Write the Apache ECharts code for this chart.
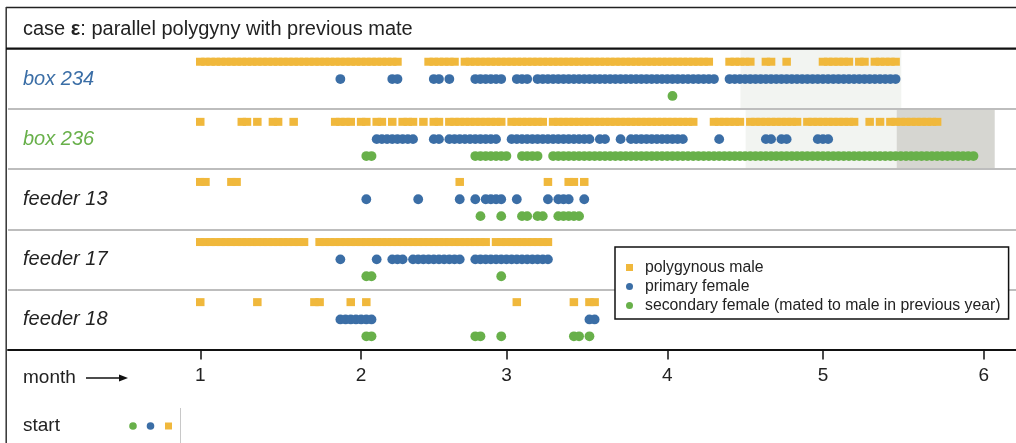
<!DOCTYPE html>
<html>
<head>
<meta charset="utf-8">
<script src="https://cdn.jsdelivr.net/npm/echarts@6/dist/echarts.min.js"></script>
<style>
html,body{margin:0;padding:0;background:#fff;}
#chart{width:1016px;height:443px;}
</style>
</head>
<body>
<div id="chart"></div>
<script>
// ---- data: day index (0 = start of month 1) on which each bird was recorded ----
const monthStartDays = [0, 31, 59, 90, 120, 151];
const monthLabels = ['1', '2', '3', '4', '5', '6'];
const rowNames = ['box 234', 'box 236', 'feeder 13', 'feeder 17', 'feeder 18'];
const seriesNames = ['polygynous male', 'primary female', 'secondary female (mated to male in previous year)'];

const box234Male = [0,1,2,3,4,5,6,7,8,9,10,11,12,13,14,15,16,17,18,19,20,21,22,23,24,25,26,27,28,29,30,31,32,33,34,35,36,37,38,
  44,45,46,47,48,49,
  51,52,53,54,55,56,57,58,59,60,61,62,63,64,65,66,67,68,69,70,71,72,73,74,75,76,77,78,79,80,81,82,83,84,85,86,87,88,89,90,91,92,93,94,95,96,97,98,
  102,103,104,105,106,109,110,113,120,121,122,123,124,125,127,128,130,131,132,133,134];
const box234Primary = [27,37,38,45,46,48,53,54,55,56,57,58,61,62,63,
  65,66,67,68,69,70,71,72,73,74,75,76,77,78,79,80,81,82,83,84,85,86,87,88,89,90,91,92,93,94,95,96,97,98,99,
  102,103,104,105,106,107,108,109,110,111,112,113,114,115,116,117,118,119,120,121,122,123,124,125,126,127,128,129,130,131,132,133,134];
const box234Secondary = [91];

const box236Male = [0,8,9,11,14,15,18,26,27,28,29,31,32,34,35,37,39,40,41,43,45,46,
  48,49,50,51,52,53,54,55,56,57,58,60,61,62,63,64,65,66,
  68,69,70,71,72,73,74,75,76,77,78,79,80,81,82,83,84,85,86,87,88,89,90,91,92,93,94,95,
  99,100,101,102,103,104,106,107,108,109,110,111,112,113,114,115,
  117,118,119,120,121,122,123,124,125,126,129,131,133,134,135,136,137,138,139,140,141,142];
const box236Primary = [34,35,36,37,38,39,40,41,45,46,48,49,50,51,52,53,54,55,56,57,
  60,61,62,63,64,65,66,67,68,69,70,71,72,73,74,75,77,78,81,
  83,84,85,86,87,88,89,90,91,92,93,100,109,110,112,113,119,120,121];
const box236Secondary = [32,33,53,54,55,56,57,58,59,62,63,64,65,
  68,69,70,71,72,73,74,75,76,77,78,79,80,81,82,83,84,85,86,87,88,89,90,91,92,93,94,95,96,97,98,99,
  100,101,102,103,104,105,106,107,108,109,110,111,112,113,114,115,116,117,118,119,120,121,122,123,124,
  125,126,127,128,129,130,131,132,133,134,135,136,137,138,139,140,141,142,143,144,145,146,147,148,149];

const feeder13Male = [0,1,6,7,50,67,71,72,74];
const feeder13Primary = [32,42,50,53,55,56,57,58,61,67,69,70,71,74];
const feeder13Secondary = [54,58,62,63,65,66,69,70,71,72,73];

const feeder17Male = [0,1,2,3,4,5,6,7,8,9,10,11,12,13,14,15,16,17,18,19,20,
  23,24,25,26,27,28,29,30,31,32,33,34,35,36,37,38,39,40,41,42,43,44,45,46,47,48,49,50,51,52,53,54,55,
  57,58,59,60,61,62,63,64,65,66,67];
const feeder17Primary = [27,34,37,38,39,41,42,43,44,45,46,47,48,49,50,
  53,54,55,56,57,58,59,60,61,62,63,64,65,66,67];
const feeder17Secondary = [32,33,58];

const feeder18Male = [0,11,22,23,29,32,61,72,75,76];
const feeder18Primary = [27,28,29,30,31,32,33,75,76];
const feeder18Secondary = [32,33,53,54,58,72,73,75];

// shaded periods: [row, fromDay, toDay]
const shadeLight = [[0, 104.1, 135.1], [1, 105.1, 134.2]];
const shadeDark = [[1, 134.2, 153.1]];

// ---- build ----
const maleByRow = [box234Male, box236Male, feeder13Male, feeder17Male, feeder18Male];
const primaryByRow = [box234Primary, box236Primary, feeder13Primary, feeder17Primary, feeder18Primary];
const secondaryByRow = [box234Secondary, box236Secondary, feeder13Secondary, feeder17Secondary, feeder18Secondary];

const LANE_MALE = -0.288, LANE_PRIM = 0, LANE_SEC = 0.281;
function lane(byRow, off) {
  const out = [];
  byRow.forEach((days, r) => days.forEach(d => out.push([d, r + off])));
  return out;
}

const FONT = "'Liberation Sans', Arial, Helvetica, sans-serif";
const C_MALE = '#f0b83c', C_PRIM = '#3b6ea6', C_SEC = '#68b04a';
const rowColors = [C_PRIM, C_SEC, '#222', '#222', '#222'];

const rich = {};
rowNames.forEach((n, i) => {
  rich['r' + i] = {color: rowColors[i], fontStyle: 'italic', fontSize: 20, fontFamily: FONT};
});

const chart = echarts.init(document.getElementById('chart'));
const option = {
  animation: false,
  backgroundColor: '#fff',
  title: {
    text: '{a|case }{b|ε}{a|: parallel polygyny with previous mate}',
    left: 18, top: 14,
    textStyle: {
      fontWeight: 'normal',
      rich: {
        a: {fontSize: 20, color: '#222', fontWeight: 'normal', fontFamily: FONT},
        b: {fontSize: 20, color: '#222', fontWeight: 'bold', fontFamily: FONT}
      }
    }
  },
  grid: {left: 8, right: 0, top: 49, bottom: 93.5, containLabel: false},
  xAxis: {
    type: 'value', min: -37.05, max: 157.2,
    axisLine: {show: true, onZero: false, lineStyle: {color: '#111', width: 2}},
    axisTick: {show: true, customValues: monthStartDays, length: 10, lineStyle: {color: '#111', width: 1.5}},
    axisLabel: {
      show: true, customValues: monthStartDays, margin: 17,
      fontSize: 19, color: '#222', fontFamily: FONT,
      formatter: v => monthLabels[monthStartDays.indexOf(Math.round(v))] || ''
    },
    splitLine: {show: false}
  },
  yAxis: {
    type: 'value', inverse: true, min: -0.5, max: 4.5,
    axisLine: {show: false}, axisTick: {show: false}, splitLine: {show: false},
    axisLabel: {
      show: true, inside: true, margin: 15, customValues: [0, 1, 2, 3, 4],
      formatter: v => '{r' + Math.round(v) + '|' + rowNames[Math.round(v)] + '}',
      rich: rich
    }
  },
  legend: {
    orient: 'vertical', left: 615, top: 247, z: 10,
    padding: [11, 8, 4, 11],
    itemWidth: 7, itemHeight: 7, itemGap: 0,
    borderColor: '#111', borderWidth: 1.5, backgroundColor: '#fff',
    selectedMode: false,
    textStyle: {fontSize: 15.8, lineHeight: 19, color: '#222', fontFamily: FONT, padding: [0, 0, 0, 7]},
    data: [
      {name: seriesNames[0], icon: 'rect'},
      {name: seriesNames[1], icon: 'circle'},
      {name: seriesNames[2], icon: 'circle'}
    ]
  },
  series: [
    {
      name: 'background', type: 'scatter', data: [], z: 1, silent: true,
      markArea: {
        silent: true, z: 1,
        data: shadeLight.map(s => [{xAxis: s[1], yAxis: s[0] - 0.5, itemStyle: {color: '#f2f4f1'}}, {xAxis: s[2], yAxis: s[0] + 0.5}])
          .concat(shadeDark.map(s => [{xAxis: s[1], yAxis: s[0] - 0.5, itemStyle: {color: '#d6d6d1'}}, {xAxis: s[2], yAxis: s[0] + 0.5}]))
      },
      markLine: {
        silent: true, symbol: 'none', animation: false, z: 1,
        label: {show: false},
        lineStyle: {color: '#bdbdbd', width: 2, type: 'solid'},
        emphasis: {disabled: true},
        data: [{yAxis: 0.5}, {yAxis: 1.5}, {yAxis: 2.5}, {yAxis: 3.5}]
      }
    },
    {
      name: seriesNames[0], type: 'scatter', z: 3, silent: true,
      symbol: 'rect', symbolSize: [8.5, 8],
      itemStyle: {color: C_MALE, opacity: 1},
      emphasis: {disabled: true},
      data: lane(maleByRow, LANE_MALE)
    },
    {
      name: seriesNames[1], type: 'scatter', z: 3, silent: true,
      symbol: 'circle', symbolSize: 9.8,
      itemStyle: {color: C_PRIM, opacity: 1},
      emphasis: {disabled: true},
      data: lane(primaryByRow, LANE_PRIM)
    },
    {
      name: seriesNames[2], type: 'scatter', z: 3, silent: true,
      symbol: 'circle', symbolSize: 9.8,
      itemStyle: {color: C_SEC, opacity: 1},
      emphasis: {disabled: true},
      data: lane(secondaryByRow, LANE_SEC)
    }
  ],
  graphic: [
    {type: 'line', shape: {x1: 6, y1: 7.5, x2: 1016, y2: 7.5}, style: {stroke: '#222', lineWidth: 1.5}, silent: true},
    {type: 'line', shape: {x1: 6.2, y1: 7, x2: 6.2, y2: 443}, style: {stroke: '#333', lineWidth: 1.5}, silent: true},
    {type: 'line', shape: {x1: 6, y1: 48.6, x2: 1016, y2: 48.6}, style: {stroke: '#111', lineWidth: 2.4}, silent: true, z: 10},
    {type: 'text', x: 23, y: 378, style: {text: 'month', fontSize: 19, fill: '#222', fontFamily: FONT, verticalAlign: 'middle'}, silent: true},
    {type: 'line', shape: {x1: 86, y1: 378, x2: 121, y2: 378}, style: {stroke: '#111', lineWidth: 1.5}, silent: true},
    {type: 'polygon', shape: {points: [[119, 374.5], [128, 378], [119, 381.5]]}, style: {fill: '#111'}, silent: true},
    {type: 'text', x: 23, y: 426, style: {text: 'start', fontSize: 19, fill: '#222', fontFamily: FONT, verticalAlign: 'middle'}, silent: true},
    {type: 'circle', shape: {cx: 133, cy: 426, r: 3.8}, style: {fill: C_SEC}, silent: true},
    {type: 'circle', shape: {cx: 150.5, cy: 426, r: 3.8}, style: {fill: C_PRIM}, silent: true},
    {type: 'rect', shape: {x: 165, y: 422.5, width: 7, height: 7}, style: {fill: C_MALE}, silent: true},
    {type: 'line', shape: {x1: 180.5, y1: 408, x2: 180.5, y2: 443}, style: {stroke: '#c8c8c8', lineWidth: 1}, silent: true}
  ]
};
chart.setOption(option);
</script>
</body>
</html>
